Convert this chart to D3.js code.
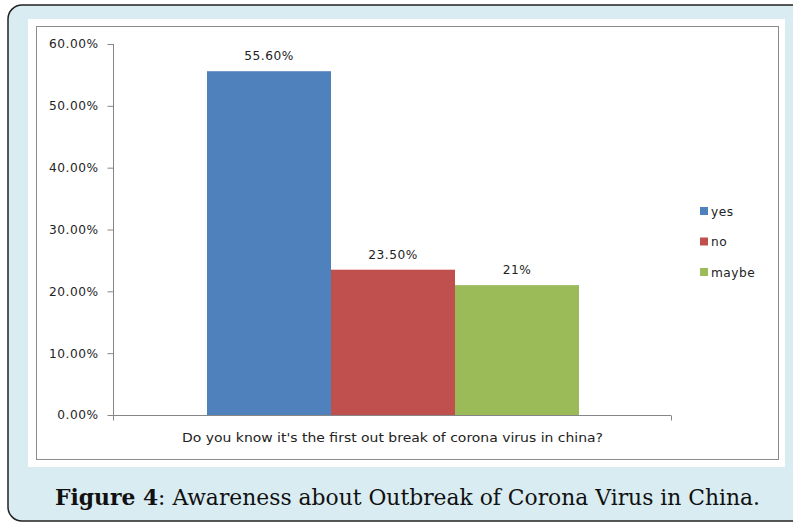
<!DOCTYPE html>
<html><head><meta charset="utf-8">
<script src="https://cdn.jsdelivr.net/npm/d3@7"></script>
<style>body{margin:0;background:#fff}svg{display:block}</style>
</head><body>
<svg id="c" width="793" height="523"></svg>
<script>
const category = "Do you know it's the first out break of corona virus  in china?";
const series = ["yes", "no", "maybe"];
const values = [0.556, 0.235, 0.21];
const valueLabels = ["55.60%", "23.50%", "21%"];
const colors = ["#4f81bd", "#c0504d", "#9bbb59"];
const yTicks = [0, 0.1, 0.2, 0.3, 0.4, 0.5, 0.6];
const captionBold = "Figure 4";
const captionRest = ": Awareness about Outbreak of Corona Virus in China.";

const svg = d3.select("#c");
const chartFont = "'DejaVu Sans', Verdana, sans-serif";
const fs = 12.2, ls = 0.5;

// outer frame
svg.append("rect").attr("x", 8).attr("y", 5).attr("width", 810).attr("height", 516)
  .attr("rx", 14).attr("fill", "#d9ecf2").attr("stroke", "#222").attr("stroke-width", 1.5);
svg.append("rect").attr("x", 28).attr("y", 19).attr("width", 757).attr("height", 448).attr("fill", "#fff");
svg.append("rect").attr("x", 36.5).attr("y", 26.5).attr("width", 742).attr("height", 433)
  .attr("fill", "none").attr("stroke", "#8c8c8c").attr("stroke-width", 1);

const x0 = d3.scaleBand().domain([category]).range([114, 672]).paddingInner(0).paddingOuter(0);
const x1 = d3.scaleBand().domain(series).range([0, x0.bandwidth()]).paddingOuter(0.75).paddingInner(0);
const y = d3.scaleLinear().domain([0, 0.6]).range([415, 44]);

// bars
const g = svg.append("g");
g.selectAll("rect.bar").data(series).join("rect")
  .attr("x", (d) => x0(category) + x1(d))
  .attr("y", (d, i) => y(values[i]))
  .attr("width", x1.bandwidth())
  .attr("height", (d, i) => y(0) - y(values[i]))
  .attr("fill", (d, i) => colors[i]);

// data labels
g.selectAll("text.lbl").data(series).join("text")
  .attr("x", (d) => x0(category) + x1(d) + x1.bandwidth() / 2)
  .attr("y", (d, i) => y(values[i]) - 11)
  .attr("text-anchor", "middle")
  .attr("font-family", chartFont).attr("font-size", fs).attr("letter-spacing", ls).attr("fill", "#222")
  .text((d, i) => valueLabels[i]);

// y axis
const yAxis = d3.axisLeft(y).tickValues(yTicks).tickFormat(d3.format(".2%")).tickSize(6).tickPadding(9);
const ya = svg.append("g").attr("transform", "translate(113.5,0)").call(yAxis);
ya.select(".domain").attr("stroke", "#868686").attr("d", `M-0,${y(0.6)}V${y(0)}`);
ya.selectAll(".tick line").attr("stroke", "#868686");
ya.selectAll(".tick text").attr("font-family", chartFont).attr("font-size", fs).attr("letter-spacing", ls).attr("fill", "#222");

// x axis
const xa = svg.append("g").attr("transform", "translate(0,415.5)");
xa.append("line").attr("x1", 113).attr("x2", 671).attr("stroke", "#868686");
xa.selectAll("line.t").data([113, 671]).join("line")
  .attr("x1", (d) => d + 0.5).attr("x2", (d) => d + 0.5).attr("y1", 0).attr("y2", 5).attr("stroke", "#868686");
xa.append("text").attr("x", x0(category) + x0.bandwidth() / 2 - 0.5).attr("y", 26)
  .attr("text-anchor", "middle").attr("font-family", chartFont).attr("font-size", fs).attr("fill", "#222")
  .attr("textLength", 421).attr("lengthAdjust", "spacingAndGlyphs")
  .text(category);

// legend
const lg = svg.append("g");
series.forEach((s, i) => {
  const cy = 211 + i * 30.5;
  lg.append("rect").attr("x", 700).attr("y", cy - 4).attr("width", 8).attr("height", 8).attr("fill", colors[i]);
  lg.append("text").attr("x", 711).attr("y", cy + 4.5).attr("font-family", chartFont).attr("font-size", fs)
    .attr("letter-spacing", ls).attr("fill", "#222").text(s);
});

// caption
const cap = svg.append("text").attr("x", 55).attr("y", 505)
  .attr("font-family", "'DejaVu Serif', 'Liberation Serif', serif").attr("font-size", 22).attr("fill", "#111")
  .attr("textLength", 705).attr("lengthAdjust", "spacingAndGlyphs");
cap.append("tspan").attr("font-weight", "bold").text(captionBold);
cap.append("tspan").text(captionRest);
</script>
</body></html>
